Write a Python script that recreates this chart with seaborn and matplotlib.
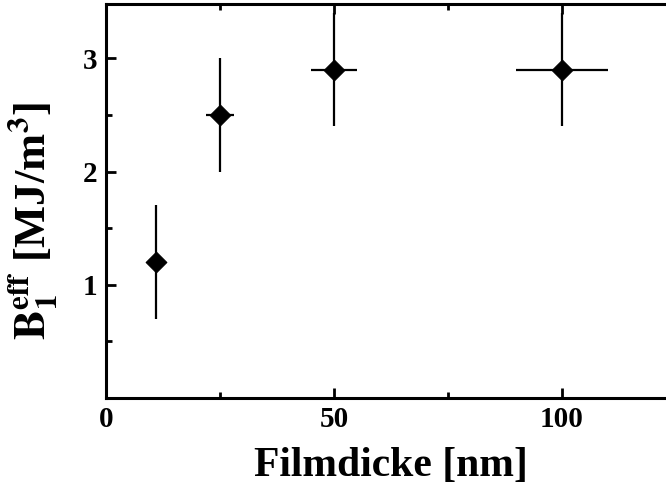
import numpy as np
import pandas as pd
import seaborn as sns
import matplotlib.pyplot as plt
from matplotlib.ticker import MultipleLocator

# Film thickness vs effective magnetoelastic coupling
thickness = [11, 25, 50, 100]
b1_eff = [1.2, 2.5, 2.9, 2.9]
x_err = [0, 3, 5, 10]
y_err = [0.5, 0.5, 0.5, 0.5]

df = pd.DataFrame({'thickness': thickness, 'b1_eff': b1_eff})

sns.set_style("ticks")
plt.rcParams['font.family'] = ['Liberation Serif', 'DejaVu Serif']
plt.rcParams['font.weight'] = 'bold'
plt.rcParams['mathtext.fontset'] = 'stix'
plt.rcParams['text.color'] = 'black'
plt.rcParams['axes.labelcolor'] = 'black'
plt.rcParams['xtick.color'] = 'black'
plt.rcParams['ytick.color'] = 'black'
plt.rcParams['axes.edgecolor'] = 'black'

fig = plt.figure(figsize=(6.66, 4.95), dpi=100)
ax = fig.add_axes([0.159, 0.196, 0.856, 0.796])

ax.errorbar(thickness, b1_eff, xerr=x_err, yerr=y_err, fmt='none',
            ecolor='black', elinewidth=1.6, capsize=0, zorder=2)
sns.scatterplot(data=df, x='thickness', y='b1_eff', marker='D', s=110,
                color='black', edgecolor='black', ax=ax, zorder=3)

ax.set_xlim(0, 125)
ax.set_ylim(0, 3.48)
ax.xaxis.set_major_locator(MultipleLocator(50))
ax.xaxis.set_minor_locator(MultipleLocator(25))
ax.yaxis.set_minor_locator(MultipleLocator(0.5))
ax.set_yticks([1, 2, 3])

ax.tick_params(which='both', direction='in', top=True, right=False, width=2)
ax.tick_params(which='major', length=7, labelsize=21, pad=6)
ax.tick_params(which='minor', length=4)
for lbl in ax.get_xticklabels() + ax.get_yticklabels():
    lbl.set_fontweight('bold')

for side in ['left', 'bottom', 'top']:
    ax.spines[side].set_linewidth(2.2)
ax.spines['right'].set_visible(False)

ax.set_xlabel('Filmdicke [nm]', fontsize=30, fontweight='bold', labelpad=10)
ax.set_ylabel(r'$\mathbf{B}_\mathbf{1}^\mathbf{eff}$ [MJ/m$^\mathbf{3}$]',
              fontsize=32, fontweight='bold')
ax.yaxis.set_label_coords(-0.08, 0.45)

fig.savefig('out.png', dpi=100)
